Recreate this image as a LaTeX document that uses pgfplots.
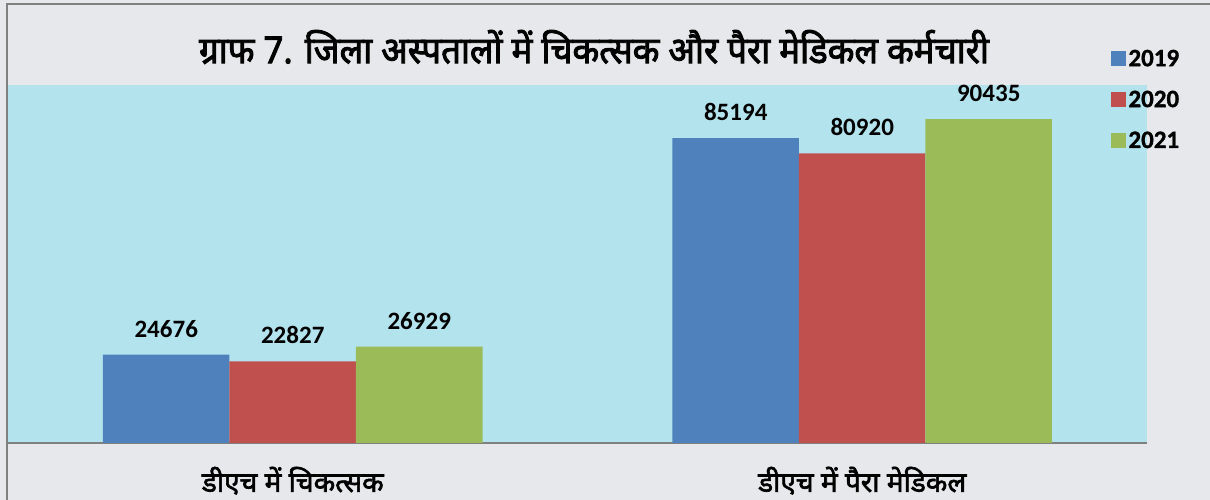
\documentclass[border=0pt]{standalone}
\usepackage{pgfplots}
\pgfplotsset{compat=1.18}
\usepackage{fontspec}
\setmainfont{Carlito}
\newfontfamily\hindi[Script=Devanagari, FakeBold=2.2]{Noto Sans}
\newfontfamily\hindititle[Script=Devanagari, FakeBold=2.5, FakeStretch=0.94]{Noto Sans}
\newfontfamily\legfont[FakeBold=1.2]{Carlito Bold}
\definecolor{outerbg}{HTML}{E7E8EB}
\definecolor{plotbg}{HTML}{B3E4EE}
\definecolor{c2019}{HTML}{4F81BD}
\definecolor{c2020}{HTML}{C0504D}
\definecolor{c2021}{HTML}{9BBB59}
\begin{document}
\begin{tikzpicture}
\path[use as bounding box] (0,0) rectangle (1210pt,500pt);
\fill[outerbg] (0,0) rectangle (1210pt,500pt);
\draw[gray, line width=2.5pt] (7pt,-5pt) -- (7pt,496pt) -- (1215pt,496pt);
\begin{axis}[
  at={(8pt,57pt)}, anchor=south west,
  scale only axis, width=1139pt, height=358pt,
  xmin=-0.5, xmax=1.5, ymin=0, ymax=100000,
  ybar=0pt, bar width=126.5pt,
  axis background/.style={fill=plotbg},
  axis x line*=bottom, axis y line=none,
  x axis line style={gray, line width=2pt, -},
  xtick={0,1}, xtick style={draw=none}, ytick=\empty,
  xticklabels={\hindi डीएच में चिकत्सक, \hindi डीएच में पैरा मेडिकल},
  xticklabel style={font=\fontsize{28}{30}\selectfont, yshift=-16pt},
  nodes near coords,
  every node near coord/.append style={font=\fontsize{25}{28}\selectfont\bfseries, inner sep=0pt, anchor=south, yshift=17pt,
    /pgf/number format/.cd, fixed, 1000 sep={}, assume math mode=true},
  legend style={draw=none, fill=none, at={(rel axis cs:0.966,1.11)}, anchor=north west,
    font=\legfont\fontsize{25}{28}\selectfont, row sep=19pt},
  legend cell align=left,
  legend image code/.code={\fill[#1, draw=none] (0pt,-7pt) rectangle (15pt,8pt);},
]
\addplot[fill=c2019, draw=none] coordinates {(0,24676) (1,85194)};
\addplot[fill=c2020, draw=none] coordinates {(0,22827) (1,80920)};
\addplot[fill=c2021, draw=none] coordinates {(0,26929) (1,90435)};
\legend{2019,2020,2021}
\end{axis}
\node[font=\hindititle\fontsize{37}{40}\selectfont] at (594pt,453pt) {ग्राफ 7. जिला अस्पतालों में चिकत्सक और पैरा मेडिकल कर्मचारी};
\end{tikzpicture}
\end{document}
